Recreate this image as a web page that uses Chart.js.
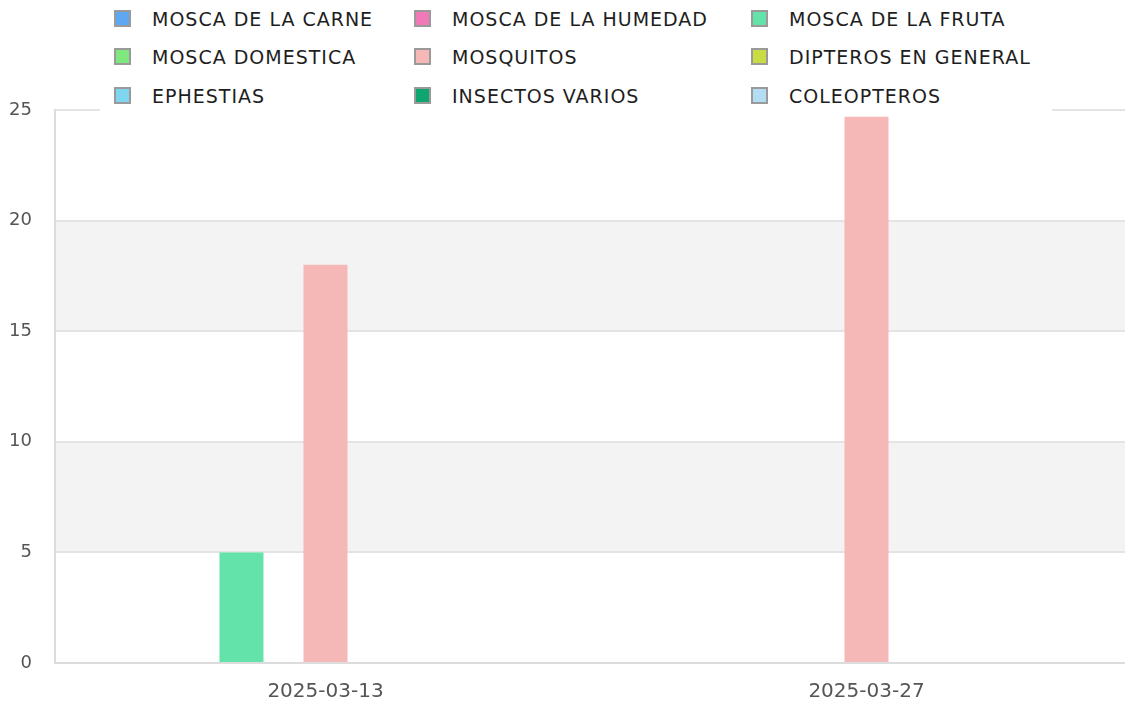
<!DOCTYPE html>
<html>
<head>
<meta charset="utf-8">
<script src="https://cdn.jsdelivr.net/npm/chart.js@4.4.1/dist/chart.umd.min.js"></script>
<style>
  body { margin: 0; background: #fff; font-family: "DejaVu Sans", sans-serif; overflow: hidden; }
  #wrap { position: relative; width: 1125px; height: 706px; overflow: hidden; }
  #grafico1 { position: absolute; left: 0; top: 0; }
  #leyenda {
    position: absolute; left: 100px; top: 0; width: 952px; height: 113px;
    background: #fff;
  }
  .item {
    position: absolute; height: 20px; line-height: 20px;
    font-size: 19px; letter-spacing: 1px; color: #1e1e1e; white-space: nowrap;
  }
  .caja {
    display: inline-block; width: 13px; height: 13px; border: 2px solid #9a9a9a;
    vertical-align: -1px; margin-right: 21px;
  }
</style>
</head>
<body>
<div id="wrap">
  <canvas id="grafico1" width="1137" height="706"></canvas>
  <div id="leyenda"></div>
</div>
<script>
const fechas = ["2025-03-13", "2025-03-27"];

const carne       = [null, null];
const humedad     = [null, null];
const fruta       = [5, null];
const domestica   = [null, null];
const mosquitos   = [18, 24.7];
const dipteros    = [null, null];
const ephestias   = [null, null];
const varios      = [null, null];
const coleopteros = [null, null];

const ticksY = [0, 5, 10, 15, 20, 25];

const series = [
  { label: 'MOSCA DE LA CARNE',   data: carne,       color: '#5ea8f2' },
  { label: 'MOSCA DE LA HUMEDAD', data: humedad,     color: '#f07ab8' },
  { label: 'MOSCA DE LA FRUTA',   data: fruta,       color: '#63e3a9' },
  { label: 'MOSCA DOMESTICA',     data: domestica,   color: '#7ee87e' },
  { label: 'MOSQUITOS',           data: mosquitos,   color: '#f6b7b7' },
  { label: 'DIPTEROS EN GENERAL', data: dipteros,    color: '#c9dc44' },
  { label: 'EPHESTIAS',           data: ephestias,   color: '#7fd6f0' },
  { label: 'INSECTOS VARIOS',     data: varios,      color: '#0ea56f' },
  { label: 'COLEOPTEROS',         data: coleopteros, color: '#b2ddf3' }
];

// franjas grises alternas entre lineas de la rejilla
const franjas = {
  id: 'franjas',
  beforeDraw(chart) {
    const c = chart.ctx, y = chart.scales.y, a = chart.chartArea;
    c.save();
    c.fillStyle = '#f3f3f3';
    for (let i = 1; i < ticksY.length - 1; i += 2) {
      const y1 = y.getPixelForValue(ticksY[i + 1]);
      const y0 = y.getPixelForValue(ticksY[i]);
      c.fillRect(a.left, y1, a.right - a.left, y0 - y1);
    }
    c.restore();
  }
};

const ctx = document.getElementById('grafico1');
const grafico = new Chart(ctx, {
  type: 'bar',
  data: {
    labels: fechas,
    datasets: series.map(s => ({
      label: s.label,
      data: s.data,
      backgroundColor: s.color,
      borderWidth: 0,
      categoryPercentage: 0.699,
      barPercentage: 1.047
    }))
  },
  options: {
    responsive: false,
    animation: false,
    layout: { padding: { top: 110, left: 0, right: 0, bottom: 0 } },
    plugins: { legend: { display: false }, tooltip: { enabled: false } },
    scales: {
      x: {
        grid: { display: false, drawTicks: false },
        border: { display: true, color: '#dcdcdc', width: 2 },
        ticks: { color: '#555', font: { family: 'DejaVu Sans', size: 20 }, padding: 17 },
        afterFit: s => { s.height = 43; }
      },
      y: {
        min: 0,
        max: 25,
        afterBuildTicks: s => { s.ticks = ticksY.map(v => ({ value: v })); },
        grid: { color: '#e4e4e4', lineWidth: 2, drawTicks: false },
        border: { display: true, color: '#dcdcdc', width: 2 },
        ticks: { color: '#555', font: { family: 'DejaVu Sans', size: 18 }, padding: 23 },
        afterFit: s => { s.width = 55; }
      }
    }
  },
  plugins: [franjas]
});

// leyenda en tres columnas
const leyenda = document.getElementById('leyenda');
const colX = [14, 314, 651];
const filaY = [9, 47, 86];
grafico.data.datasets.forEach((d, i) => {
  const el = document.createElement('div');
  el.className = 'item';
  el.style.left = colX[i % 3] + 'px';
  el.style.top = filaY[Math.floor(i / 3)] + 'px';
  el.innerHTML = '<span class="caja" style="background:' + d.backgroundColor + '"></span>' + d.label;
  leyenda.appendChild(el);
});
</script>
</body>
</html>
